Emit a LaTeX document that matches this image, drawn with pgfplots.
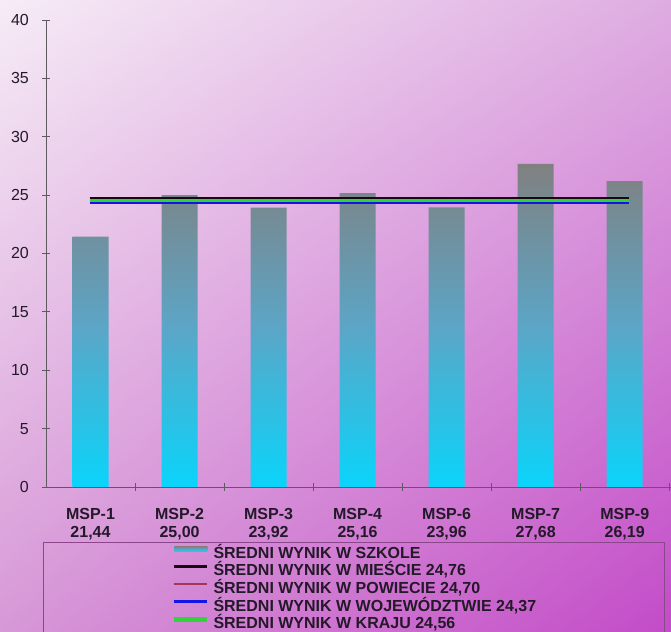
\documentclass[border=0pt]{standalone}
\usepackage{fontspec}
\setmainfont{Liberation Sans}
\usepackage{pgfplots}
\pgfplotsset{compat=1.18}
\usetikzlibrary{shadings}
\definecolor{bgTL}{RGB}{246,236,246}
\definecolor{bgTR}{RGB}{222,172,225}
\definecolor{bgBL}{RGB}{215,152,215}
\definecolor{bgBR}{RGB}{195,75,200}
\definecolor{bartop}{RGB}{128,128,128}
\definecolor{barmid}{RGB}{92,165,198}
\definecolor{barbot}{RGB}{10,212,250}
\definecolor{legcyan}{RGB}{95,208,235}
\definecolor{lnblack}{RGB}{25,8,18}
\definecolor{lnred}{RGB}{165,55,85}
\definecolor{lnblue}{RGB}{20,20,230}
\definecolor{lngreen}{RGB}{50,210,60}
\definecolor{axgray}{RGB}{95,90,95}
\definecolor{boxcol}{RGB}{140,70,140}
\definecolor{txt}{RGB}{35,25,40}
\begin{document}
\begin{tikzpicture}[x=1bp,y=1bp]
\path[use as bounding box, clip] (0,0) rectangle (671,632);
\shade[upper left=bgTL, upper right=bgTR, lower left=bgBL, lower right=bgBR] (0,0) rectangle (671,632);
\draw[boxcol, line width=0.8bp] (43,-20) rectangle (664,90);
\begin{axis}[
  at={(46bp,145bp)}, anchor=south west,
  scale only axis, width=625bp, height=467bp,
  xmin=-0.5, xmax=6.52, ymin=0, ymax=40,
  axis x line*=bottom, axis y line*=left,
  axis line style={axgray, line width=0.8bp, -},
  xtick={0,1,2,3,4,5,6},
  xticklabels={{MSP-1\\21,44},{MSP-2\\25,00},{MSP-3\\23,92},{MSP-4\\25,16},{MSP-6\\23,96},{MSP-7\\27,68},{MSP-9\\26,19}},
  xticklabel style={font=\fontsize{16bp}{18bp}\selectfont\bfseries, align=center, text=txt, anchor=north, inner sep=0pt, yshift=-17bp},
  major x tick style={draw=none},
  minor xtick={0.5,1.5,2.5,3.5,4.5,5.5,6.5},
  minor x tick style={axgray, line width=0.8bp},
  minor tick length=8bp,
  ytick={0,5,...,40},
  yticklabel style={font=\fontsize{16bp}{18bp}\selectfont, text=txt, anchor=east, inner sep=0pt, xshift=-13bp},
  major y tick style={axgray, line width=0.8bp},
  major tick length=8bp,
  tick align=center,
  /pgf/number format/assume math mode=true,
  legend style={at={(axis description cs:0.2016,-0.1265)}, anchor=north west, draw=none, fill=none,
    font=\fontsize{16bp}{18bp}\selectfont\bfseries, row sep=2.2bp, column sep=4bp, inner sep=0pt, outer sep=0pt,
    nodes={inner sep=0pt, outer sep=0pt, text height=12bp, text depth=3.5bp, text=txt}},
  legend cell align=left,
]
\addplot[ybar, bar width=36bp, draw=none, top color=bartop, bottom color=barbot, middle color=barmid,
  legend image code/.code={\fill[legcyan] (0bp,2.5bp) rectangle (33bp,7.5bp);}]
  coordinates {(0,21.44) (1,25.00) (2,23.92) (3,25.16) (4,23.96) (5,27.68) (6,26.19)};
\addlegendentry{ŚREDNI WYNIK W SZKOLE}
\addlegendimage{legend image code/.code={\draw[lnblack, line width=2.6bp] (0bp,5bp) -- (33bp,5bp);}}
\addlegendentry{ŚREDNI WYNIK W MIEŚCIE 24,76}
\addlegendimage{legend image code/.code={\draw[lnred, line width=1.8bp] (0bp,5bp) -- (33bp,5bp);}}
\addlegendentry{ŚREDNI WYNIK W POWIECIE 24,70}
\addlegendimage{legend image code/.code={\draw[lnblue, line width=3bp] (0bp,5bp) -- (33bp,5bp);}}
\addlegendentry{ŚREDNI WYNIK W WOJEWÓDZTWIE 24,37}
\addlegendimage{legend image code/.code={\draw[lngreen, line width=4.5bp] (0bp,5bp) -- (33bp,5bp);}}
\addlegendentry{ŚREDNI WYNIK W KRAJU 24,56}
\addplot[lnred, line width=2.6bp, no marks, forget plot] coordinates {(-0.01,24.70) (6.05,24.70)};
\addplot[lnblack, line width=2.8bp, no marks, forget plot] coordinates {(-0.01,24.76) (6.05,24.76)};
\addplot[lnblue, line width=3bp, no marks, forget plot] coordinates {(-0.01,24.37) (6.05,24.37)};
\addplot[lngreen, line width=3bp, no marks, forget plot] coordinates {(-0.01,24.56) (6.05,24.56)};
\end{axis}
\end{tikzpicture}
\end{document}
